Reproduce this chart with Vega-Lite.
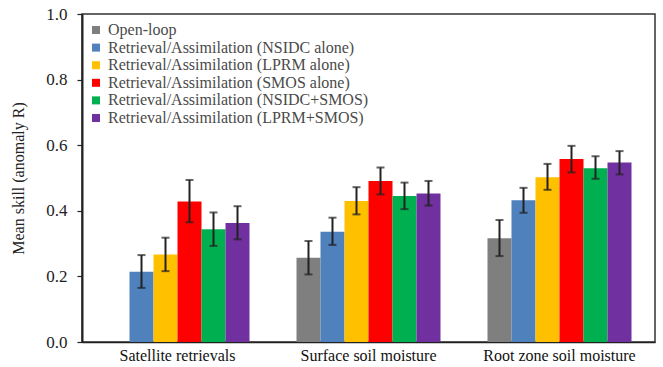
{
  "$schema": "https://vega.github.io/schema/vega-lite/v6.json",
  "autosize": {"type": "none"},
  "width": 573,
  "height": 328,
  "padding": {"left": 82, "top": 14, "right": 8, "bottom": 25},
  "background": "white",
  "config": {
    "font": "Liberation Serif",
    "axis": {"labelFont": "Liberation Serif", "titleFont": "Liberation Serif"},
    "legend": {"labelFont": "Liberation Serif", "titleFont": "Liberation Serif"},
    "view": {"stroke": "#333333", "strokeWidth": 1.5}
  },
  "data": {
    "values": [
      {"group": "Satellite retrievals", "series": "Retrieval/Assimilation (NSIDC alone)", "value": 0.214, "lo": 0.165, "hi": 0.265},
      {"group": "Satellite retrievals", "series": "Retrieval/Assimilation (LPRM alone)", "value": 0.267, "lo": 0.216, "hi": 0.318},
      {"group": "Satellite retrievals", "series": "Retrieval/Assimilation (SMOS alone)", "value": 0.428, "lo": 0.365, "hi": 0.494},
      {"group": "Satellite retrievals", "series": "Retrieval/Assimilation (NSIDC+SMOS)", "value": 0.344, "lo": 0.293, "hi": 0.395},
      {"group": "Satellite retrievals", "series": "Retrieval/Assimilation (LPRM+SMOS)", "value": 0.363, "lo": 0.313, "hi": 0.414},
      {"group": "Surface soil moisture", "series": "Open-loop", "value": 0.257, "lo": 0.206, "hi": 0.308},
      {"group": "Surface soil moisture", "series": "Retrieval/Assimilation (NSIDC alone)", "value": 0.336, "lo": 0.296, "hi": 0.379},
      {"group": "Surface soil moisture", "series": "Retrieval/Assimilation (LPRM alone)", "value": 0.430, "lo": 0.389, "hi": 0.472},
      {"group": "Surface soil moisture", "series": "Retrieval/Assimilation (SMOS alone)", "value": 0.491, "lo": 0.450, "hi": 0.532},
      {"group": "Surface soil moisture", "series": "Retrieval/Assimilation (NSIDC+SMOS)", "value": 0.445, "lo": 0.405, "hi": 0.486},
      {"group": "Surface soil moisture", "series": "Retrieval/Assimilation (LPRM+SMOS)", "value": 0.453, "lo": 0.416, "hi": 0.491},
      {"group": "Root zone soil moisture", "series": "Open-loop", "value": 0.316, "lo": 0.262, "hi": 0.372},
      {"group": "Root zone soil moisture", "series": "Retrieval/Assimilation (NSIDC alone)", "value": 0.432, "lo": 0.394, "hi": 0.470},
      {"group": "Root zone soil moisture", "series": "Retrieval/Assimilation (LPRM alone)", "value": 0.502, "lo": 0.464, "hi": 0.543},
      {"group": "Root zone soil moisture", "series": "Retrieval/Assimilation (SMOS alone)", "value": 0.558, "lo": 0.517, "hi": 0.598},
      {"group": "Root zone soil moisture", "series": "Retrieval/Assimilation (NSIDC+SMOS)", "value": 0.530, "lo": 0.498, "hi": 0.566},
      {"group": "Root zone soil moisture", "series": "Retrieval/Assimilation (LPRM+SMOS)", "value": 0.547, "lo": 0.511, "hi": 0.582}
    ]
  },
  "encoding": {
    "x": {
      "field": "group", "type": "nominal",
      "sort": ["Satellite retrievals", "Surface soil moisture", "Root zone soil moisture"],
      "scale": {"paddingInner": 0.246, "paddingOuter": 0.123},
      "axis": {"title": null, "labelAngle": 0, "ticks": false, "domainColor": "#222222", "domainWidth": 1.5, "labelFont": "Liberation Serif", "labelFontSize": 16, "labelColor": "#111111", "labelPadding": 5}
    },
    "xOffset": {
      "field": "series", "type": "nominal",
      "sort": ["Open-loop", "Retrieval/Assimilation (NSIDC alone)", "Retrieval/Assimilation (LPRM alone)", "Retrieval/Assimilation (SMOS alone)", "Retrieval/Assimilation (NSIDC+SMOS)", "Retrieval/Assimilation (LPRM+SMOS)"],
      "scale": {"paddingInner": 0, "paddingOuter": 0}
    }
  },
  "layer": [
    {
      "mark": {"type": "bar"},
      "encoding": {
        "y": {
          "field": "value", "type": "quantitative",
          "scale": {"domain": [0, 1], "nice": false},
          "axis": {
            "title": "Mean skill (anomaly R)",
            "values": [0, 0.1, 0.2, 0.3, 0.4, 0.5, 0.6, 0.7, 0.8, 0.9, 1.0],
            "labelExpr": "round(datum.value*10) % 2 == 0 ? format(datum.value, '.1f') : ''",
            "grid": false,
            "tickSize": 5, "tickColor": "#222222", "tickWidth": 1.2,
            "domainColor": "#222222", "domainWidth": 2,
            "labelFont": "Liberation Serif", "labelFontSize": 17, "labelColor": "#222222", "labelPadding": 10,
            "titleFont": "Liberation Serif", "titleFontSize": 16, "titleFontWeight": "normal", "titleColor": "#222222", "titlePadding": 19
          }
        },
        "color": {
          "field": "series", "type": "nominal",
          "scale": {
            "domain": ["Open-loop", "Retrieval/Assimilation (NSIDC alone)", "Retrieval/Assimilation (LPRM alone)", "Retrieval/Assimilation (SMOS alone)", "Retrieval/Assimilation (NSIDC+SMOS)", "Retrieval/Assimilation (LPRM+SMOS)"],
            "range": ["#7f7f7f", "#4f81bd", "#ffc000", "#ff0000", "#00b050", "#7030a0"]
          },
          "legend": {
            "title": null, "orient": "none", "legendX": 6, "legendY": 8,
            "symbolType": "square", "symbolSize": 64, "symbolStrokeWidth": 0,
            "labelFont": "Liberation Serif", "labelFontSize": 16, "labelColor": "#4a4a4a", "labelLimit": 400,
            "rowPadding": 1.6, "labelOffset": 4
          }
        }
      }
    },
    {
      "mark": {"type": "rule", "color": "#222222", "strokeWidth": 2},
      "encoding": {
        "y": {"field": "lo", "type": "quantitative"},
        "y2": {"field": "hi"}
      }
    },
    {
      "mark": {"type": "tick", "color": "#222222", "thickness": 2, "size": 8},
      "encoding": {"y": {"field": "lo", "type": "quantitative"}}
    },
    {
      "mark": {"type": "tick", "color": "#222222", "thickness": 2, "size": 8},
      "encoding": {"y": {"field": "hi", "type": "quantitative"}}
    }
  ]
}
